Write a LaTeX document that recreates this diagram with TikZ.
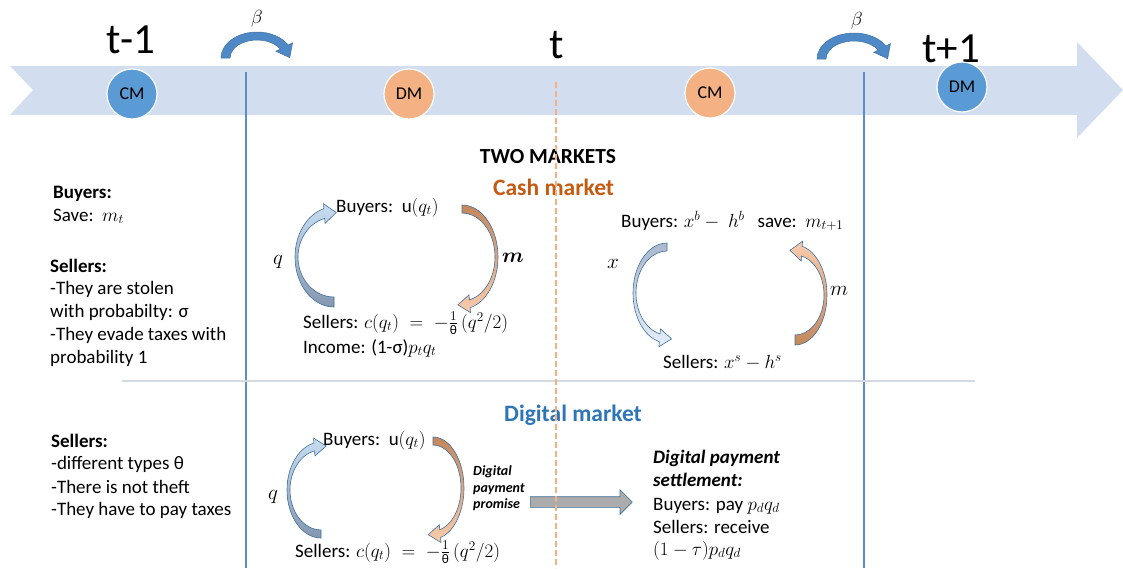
\RequirePackage{fix-cm}
\documentclass[tikz,border=0pt]{standalone}
\usepackage{amsmath}
\usepackage{fontspec}
\setmainfont{Carlito}
\usetikzlibrary{calc,shapes.arrows}
\definecolor{band}{HTML}{D2DEEF}
\definecolor{cblue}{HTML}{5B9BD5}
\definecolor{corange}{HTML}{F4B183}
\definecolor{vline}{HTML}{5B8EC9}
\definecolor{outl}{HTML}{41719C}
\definecolor{lblue}{HTML}{C9DDF2}
\definecolor{dblue}{HTML}{8497B0}
\definecolor{gblue}{HTML}{A9B8CB}
\definecolor{pblue}{HTML}{E3EEF9}
\definecolor{brown}{HTML}{C4875C}
\definecolor{lorange}{HTML}{F8CBAD}
\definecolor{cashc}{HTML}{C55A11}
\definecolor{digc}{HTML}{2E75B6}
\definecolor{sepc}{HTML}{D3DAE4}
\definecolor{betac}{HTML}{4F88C6}
\newcommand\cahe{4pt}
\newcommand\cahl{11pt}
\newcommand\carrow[9]{%
  \pgfmathsetmacro\crsgn{(#8>#7)?90:-90}%
  \coordinate (cac) at (#1,#2);
  \coordinate (cao) at ($(cac)+(#8:#3pt and #4pt)$);
  \coordinate (cai) at ($(cac)+(#8:#5pt and #6pt)$);
  \coordinate (cam) at ($(cao)!0.5!(cai)$);
  \coordinate (caho) at ($(cao)!-\cahe!(cai)$);
  \coordinate (cahi) at ($(cai)!-\cahe!(cao)$);
  \coordinate (cat) at ($(cam)!\cahl!\crsgn:(cao)$);
  \path[#9] ($(cac)+(#7:#3pt and #4pt)$) arc[start angle=#7,end angle=#8,x radius=#3pt,y radius=#4pt]
    -- (caho) -- (cat) -- (cahi) -- (cai)
    arc[start angle=#8,end angle=#7,x radius=#5pt,y radius=#6pt] -- cycle;
}
\tikzset{
  txt/.style={font=\fontsize{19}{23}\selectfont, inner sep=0pt, anchor=base west},
  bigt/.style={font=\fontsize{43}{50}\selectfont, inner sep=0pt, anchor=base},
  var/.style={font=\fontsize{21}{24}\selectfont, inner sep=0pt},
  mk/.style={circle, draw=white, line width=1.2pt, minimum size=50pt, inner sep=0pt, font=\fontsize{18}{20}\selectfont},
  blarrow/.style={draw=outl, line width=0.6pt, top color=lblue, bottom color=dblue},
  orarrow/.style={draw=outl, line width=0.6pt, top color=brown, bottom color=lorange},
  gbarrow/.style={draw=outl, line width=0.6pt, top color=gblue, bottom color=pblue},
  orarrowup/.style={draw=outl, line width=0.6pt, top color=lorange, bottom color=brown},
  betaarrow/.style={draw=outl, line width=0.5pt, fill=betac},
  promise/.style={font=\fontsize{14}{17}\selectfont\bfseries\itshape, inner sep=0pt, anchor=base west},
}
\begin{document}
\begin{tikzpicture}[x=1pt,y=1pt,yscale=-1]
\useasboundingbox (0,0) rectangle (1123,568);
% timeline band
\fill[band] (10,66) -- (1077,66) -- (1077,42) -- (1123,90) -- (1077,138) -- (1077,115) -- (10,115) -- (33,90) -- cycle;
% period labels
\node[bigt] (tm1) at (131,53) {t-1};
\node[bigt] (t0) at (557,58) {t};
\node[bigt] (tp1) at (951,62) {t+1};
% beta arrows
\renewcommand\cahe{5pt}\renewcommand\cahl{12pt}
\carrow{257}{58}{36}{26}{27}{18}{180}{330}{betaarrow}
\carrow{854}{59}{37}{26}{28}{18}{180}{330}{betaarrow}
\node[var, font=\fontsize{19}{22}\selectfont] (b1) at (257,19) {$\beta$};
\node[var, font=\fontsize{19}{22}\selectfont] (b2) at (857,21) {$\beta$};
% market circles
\node[mk, fill=cblue] (cm1) at (132,94) {CM};
\node[mk, fill=corange] (dm1) at (409,94) {DM};
\node[mk, fill=corange] (cm2) at (710,93) {CM};
\node[mk, fill=cblue] (dm2) at (962,87) {DM};
% vertical period lines
\draw[vline, line width=1.6pt] (246,72) -- (246,568);
\draw[vline, line width=1.6pt] (864,72) -- (864,568);
% separator
\draw[sepc, line width=1.5pt] (122,381) -- (975,381);
% titles
\node[font=\fontsize{21.5}{24}\selectfont\bfseries, inner sep=0pt, anchor=base] (two) at (548,163) {TWO MARKETS};
\node[font=\fontsize{23.5}{26}\selectfont\bfseries, text=cashc, inner sep=0pt, anchor=base west] (cash) at (493,195) {Cash market};
\node[font=\fontsize{23.5}{26}\selectfont\bfseries, text=digc, inner sep=0pt, anchor=base west] (dig) at (504,421) {Digital market};
% left block 1
\node[txt] (l1) at (53,198) {\textbf{Buyers:}};
\node[txt] (l2) at (53,221) {Save:\ \ $m_t$};
\node[txt] (l3) at (50,272) {\textbf{Sellers:}};
\node[txt] (l4) at (50,294) {-They are stolen};
\node[txt] (l5) at (50,317) {with probabilty: σ};
\node[txt] (l6) at (50,340) {-They evade taxes with};
\node[txt] (l7) at (50,363) {probability 1};
% left block 2
\node[txt] (k1) at (51,447) {\textbf{Sellers:}};
\node[txt] (k2) at (51,469) {-different types θ};
\node[txt] (k3) at (51,493) {-There is not theft};
\node[txt] (k4) at (51,515) {-They have to pay taxes};
% cash market, DM cycle
\renewcommand\cahe{5pt}\renewcommand\cahl{12pt}
\carrow{334}{257}{39}{50}{36}{40}{90}{255}{blarrow}
\carrow{462}{257}{36}{52}{33}{44}{-90}{77}{orarrow}
\node[txt] (cb) at (336,212) {Buyers:\ \ $\mathrm{u}(q_t)$};
\node[txt] (cs) at (303,328) {Sellers: $c(q_t)\;=\;-\tfrac{1}{\text{θ}}\,(q^2/2)$};
\node[txt] (ci) at (303,353) {Income: (1-σ)$p_tq_t$};
\node[var] (cq) at (278,262) {$q$};
\node[var] (cmm) at (513,258) {$\boldsymbol{m}$};
% cash market, CM cycle
\carrow{667}{293}{34}{50}{31}{42}{270}{103}{gbarrow}
\carrow{795}{295}{32}{50}{29}{40}{90}{-77}{orarrowup}
\node[txt] (rb) at (621,227) {Buyers: $x^b-\ h^b$\ \ \ save:\ \ $m_{t+1}$};
\node[txt] (rs) at (663,368) {Sellers: $x^s-h^s$};
\node[var] (rx) at (613,264) {$x$};
\node[var] (rm) at (839,291) {$m$};
% digital market cycle
\carrow{321}{490}{34}{48}{31}{40}{90}{258}{blarrow}
\carrow{433}{488}{31}{51}{28}{43}{-90}{76}{orarrow}
\node[txt] (db) at (323,445) {Buyers:\ \ $\mathrm{u}(q_t)$};
\node[txt] (ds) at (295,557) {Sellers: $c(q_t)\;=\;-\tfrac{1}{\text{θ}}\,(q^2/2)$};
\node[var] (dq) at (273,497) {$q$};
\node[promise] (p1) at (473,475) {Digital};
\node[promise] (p2) at (473,492) {payment};
\node[promise] (p3) at (473,508) {promise};
% settlement
\node[txt, font=\fontsize{19}{23}\selectfont\bfseries\itshape] (s1) at (653,463) {Digital payment};
\node[txt, font=\fontsize{19}{23}\selectfont\bfseries\itshape] (s2) at (653,486) {settlement:};
\node[txt] (s3) at (653,510) {Buyers: pay $p_dq_d$};
\node[txt] (s4) at (653,533) {Sellers: receive};
\node[txt] (s5) at (653,555) {$(1-\tau)p_dq_d$};
% promise arrow
\node[single arrow, fill=gray!65, draw=outl, line width=0.6pt, minimum height=102pt, inner xsep=0pt, inner ysep=5pt, single arrow head extend=7pt, anchor=west] (garrow) at (530,502) {};
% dashed period line
\draw[corange, line width=1.8pt, dash pattern=on 6pt off 3pt] (556,82) -- (556,568);
\end{tikzpicture}
\end{document}
